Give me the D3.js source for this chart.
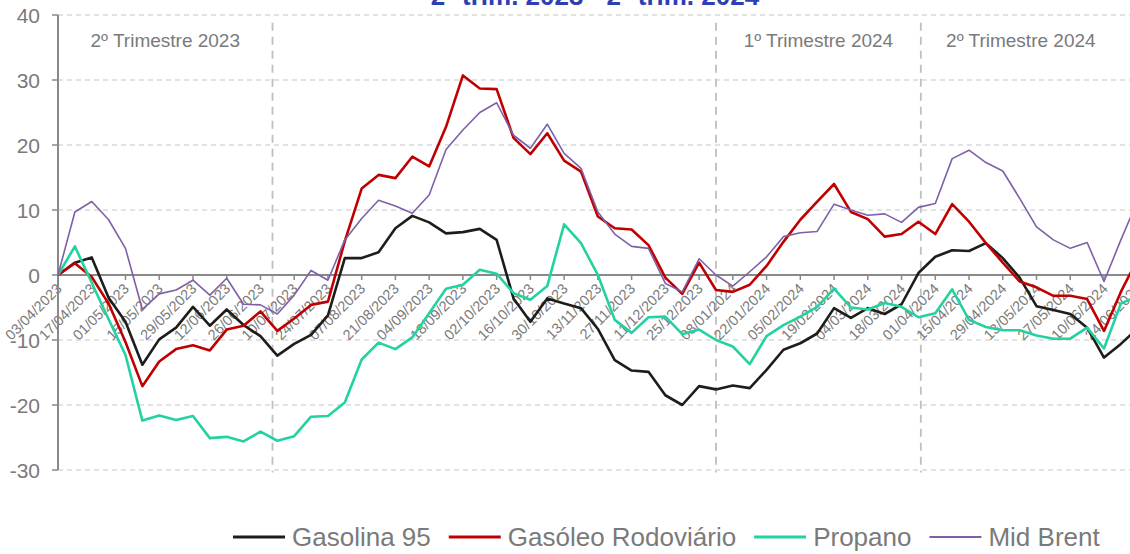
<!DOCTYPE html>
<html>
<head>
<meta charset="utf-8">
<script src="https://cdn.jsdelivr.net/npm/d3@7"></script>
<style>
  html, body { margin: 0; padding: 0; background: #fff; }
  #chart { width: 1130px; height: 554px; overflow: hidden; }
  #chart svg { display: block; font-family: "Liberation Sans", Arial, sans-serif; }
</style>
</head>
<body>
<div id="chart"></div>
<script>
// Weekly price variation (%) vs. same week of the previous year
var weeks = [
    "03/04/2023", "10/04/2023", "17/04/2023", "24/04/2023", "01/05/2023", "08/05/2023",
    "15/05/2023", "22/05/2023", "29/05/2023", "05/06/2023", "12/06/2023", "19/06/2023",
    "26/06/2023", "03/07/2023", "10/07/2023", "17/07/2023", "24/07/2023", "31/07/2023",
    "07/08/2023", "14/08/2023", "21/08/2023", "28/08/2023", "04/09/2023", "11/09/2023",
    "18/09/2023", "25/09/2023", "02/10/2023", "09/10/2023", "16/10/2023", "23/10/2023",
    "30/10/2023", "06/11/2023", "13/11/2023", "20/11/2023", "27/11/2023", "04/12/2023",
    "11/12/2023", "18/12/2023", "25/12/2023", "01/01/2024", "08/01/2024", "15/01/2024",
    "22/01/2024", "29/01/2024", "05/02/2024", "12/02/2024", "19/02/2024", "26/02/2024",
    "04/03/2024", "11/03/2024", "18/03/2024", "25/03/2024", "01/04/2024", "08/04/2024",
    "15/04/2024", "22/04/2024", "29/04/2024", "06/05/2024", "13/05/2024", "20/05/2024",
    "27/05/2024", "03/06/2024", "10/06/2024", "17/06/2024", "24/06/2024"
];

var gasolina95 = [
    0, 1.9, 2.7, -3.5, -7.2, -13.8, -9.9, -8.1, -4.9, -7.8, -5.3, -7.7, -9.4, -12.4, -10.6, -9.2,
    -6.2, 2.6, 2.6, 3.5, 7.2, 9.1, 8.1, 6.4, 6.6, 7.1, 5.4, -3.6, -7.2, -3.6, -4.4, -5.1,
    -8.3, -13.1, -14.7, -14.9, -18.5, -20.0, -17.1, -17.6, -17.0, -17.4, -14.6, -11.5, -10.5, -9.0,
    -5.1, -6.6, -5.1, -6.0, -4.5, 0.3, 2.8, 3.8, 3.7, 4.9, 2.6, -0.4, -4.8, -5.4, -6.0, -8.1,
    -12.7, -10.6, -8.2
];

var gasoleo = [
    0, 1.8, -0.3, -4.4, -10.3, -17.1, -13.3, -11.4, -10.8, -11.6, -8.4, -7.8, -5.6, -8.6, -6.7, -4.6,
    -4.1, 5.2, 13.3, 15.4, 14.9, 18.2, 16.7, 22.8, 30.7, 28.7, 28.6, 21.1, 18.6, 21.8, 17.6, 15.9,
    9.0, 7.2, 7.0, 4.6, -0.4, -2.9, 1.9, -2.3, -2.6, -1.5, 1.4, 5.1, 8.5, 11.3,
    14.0, 9.7, 8.6, 5.9, 6.3, 8.2, 6.3, 10.9, 8.2, 4.9, 1.9, -1.0, -1.9, -3.2, -3.2, -3.7,
    -8.6, -2.6, 2.5
];

var propano = [
    0, 4.4, -1.2, -6.8, -12.3, -22.4, -21.6, -22.3, -21.7, -25.1, -24.9, -25.6, -24.1, -25.5, -24.8, -21.8,
    -21.7, -19.6, -13.0, -10.4, -11.4, -9.6, -5.9, -2.1, -1.5, 0.8, 0.2, -2.8, -3.8, -1.7, 7.8, 4.9,
    0.0, -6.9, -8.9, -6.5, -6.4, -9.1, -8.4, -10.0, -11.0, -13.7, -9.4, -7.7, -6.4, -4.9,
    -2.1, -5.0, -5.3, -4.3, -4.9, -6.5, -5.9, -2.2, -6.9, -8.0, -8.5, -8.5, -9.3, -9.8, -9.8, -8.1,
    -11.3, -4.4, -3.2
];

var midBrent = [
    0, 9.7, 11.3, 8.5, 4.1, -5.3, -2.9, -2.3, -0.8, -3.1, -0.5, -4.5, -4.6, -6.0, -3.1, 0.7,
    -0.8, 5.4, 8.7, 11.5, 10.6, 9.5, 12.3, 19.3, 22.3, 25.0, 26.5, 21.5, 19.5, 23.2, 18.7, 16.4,
    9.7, 6.3, 4.4, 4.1, -1.3, -2.6, 2.5, 0.0, -1.7, 0.5, 2.8, 5.9, 6.5, 6.7,
    10.9, 10.0, 9.2, 9.4, 8.1, 10.4, 11.0, 17.9, 19.2, 17.3, 16.0, 11.8, 7.4, 5.4, 4.1, 5.0,
    -1.0, 5.4, 11.5
];

var seriesNames = ["Gasolina 95", "Gasóleo Rodoviário", "Propano", "Mid Brent"];
var seriesValues = [gasolina95, gasoleo, propano, midBrent];

var yTicks = [-30, -20, -10, 0, 10, 20, 30, 40];

// Quarter boundaries and quarter labels (label sits in the middle of its span)
var quarterDividers = ["01/07/2023", "01/01/2024", "26/03/2024"];
var quarterLabels = ["2º Trimestre 2023", "1º Trimestre 2024", "2º Trimestre 2024"];
var quarterSpans = [
    ["03/04/2023", "01/07/2023"],
    ["01/01/2024", "26/03/2024"],
    ["26/03/2024", "17/06/2024"]
];

var chartTitle = "2º trim. 2023 - 2º trim. 2024";

function renderChart(containerId) {
    var totalW = 1130, totalH = 554;
    var colors = ["#1d1d1b", "#c00000", "#22d2a0", "#7e60a8"];
    var widths = [2.6, 2.6, 2.6, 1.6];
    var axisGrey = "#898989";
    var textGrey = "#7a7a7a";

    var parseDate = d3.utcParse("%d/%m/%Y");
    var dates = weeks.map(parseDate);

    var svg = d3.select("#" + containerId).append("svg")
        .attr("width", totalW)
        .attr("height", totalH);

    // --- Scales ---
    var x = d3.scaleUtc()
        .domain([parseDate("03/04/2023"), parseDate("10/06/2024")])
        .range([58, 1104]);

    var y = d3.scaleLinear()
        .domain([-30, 40])
        .range([470, 15]);

    var xEnd = x(dates[dates.length - 1]);

    // --- Grid lines ---
    svg.append("g")
        .attr("class", "grid")
        .selectAll("line")
        .data(yTicks.filter(function(d) { return d !== 0; }))
        .enter().append("line")
            .attr("x1", x.range()[0]).attr("x2", xEnd)
            .attr("y1", function(d) { return y(d); })
            .attr("y2", function(d) { return y(d); })
            .style("stroke", "#d9d9d9")
            .style("stroke-width", 1.4)
            .style("stroke-dasharray", "5,4");

    // --- Quarter dividers ---
    svg.append("g")
        .attr("class", "dividers")
        .selectAll("line")
        .data(quarterDividers)
        .enter().append("line")
            .attr("x1", function(d) { return x(parseDate(d)); })
            .attr("x2", function(d) { return x(parseDate(d)); })
            .attr("y1", y(38.8))
            .attr("y2", y(-30.4))
            .style("stroke", "#bfbfbf")
            .style("stroke-width", 1.8)
            .style("stroke-dasharray", "8,6");

    svg.append("g")
        .attr("class", "quarter-labels")
        .selectAll("text")
        .data(quarterLabels)
        .enter().append("text")
            .attr("x", function(d, i) {
                var s = quarterSpans[i];
                return (x(parseDate(s[0])) + x(parseDate(s[1]))) / 2;
            })
            .attr("y", 47)
            .attr("text-anchor", "middle")
            .style("font-size", "19px")
            .style("fill", textGrey)
            .text(function(d) { return d; });

    // --- Zero line with ticks ---
    var tickDates = dates.filter(function(d, i) { return i % 2 === 0; });
    var tickLabels = weeks.filter(function(d, i) { return i % 2 === 0; });

    svg.append("line")
        .attr("x1", x.range()[0]).attr("x2", xEnd)
        .attr("y1", y(0)).attr("y2", y(0))
        .style("stroke", axisGrey)
        .style("stroke-width", 2);

    svg.append("g")
        .selectAll("line")
        .data(tickDates)
        .enter().append("line")
            .attr("x1", function(d) { return x(d); })
            .attr("x2", function(d) { return x(d); })
            .attr("y1", y(0))
            .attr("y2", y(0) + 5)
            .style("stroke", axisGrey)
            .style("stroke-width", 1.5);

    svg.append("g")
        .attr("class", "x-labels")
        .selectAll("text")
        .data(tickLabels)
        .enter().append("text")
            .attr("transform", function(d, i) {
                return "translate(" + (x(tickDates[i]) + 1) + "," + (y(0) + 11) + ") rotate(-45)";
            })
            .attr("text-anchor", "end")
            .attr("dy", "0.35em")
            .style("font-size", "14.5px")
            .style("fill", textGrey)
            .text(function(d) { return d; });

    // --- Y axis ---
    svg.append("line")
        .attr("x1", x.range()[0]).attr("x2", x.range()[0])
        .attr("y1", y(40)).attr("y2", y(-30))
        .style("stroke", axisGrey)
        .style("stroke-width", 2);

    var yAxis = svg.append("g").attr("class", "y-axis");
    yAxis.selectAll("line")
        .data(yTicks)
        .enter().append("line")
            .attr("x1", x.range()[0] - 6).attr("x2", x.range()[0])
            .attr("y1", function(d) { return y(d); })
            .attr("y2", function(d) { return y(d); })
            .style("stroke", axisGrey)
            .style("stroke-width", 1.5);

    yAxis.selectAll("text")
        .data(yTicks)
        .enter().append("text")
            .attr("x", 40)
            .attr("y", function(d) { return y(d); })
            .attr("dy", "0.36em")
            .attr("text-anchor", "end")
            .style("font-size", "21px")
            .style("fill", textGrey)
            .text(function(d) { return d; });

    // --- Lines ---
    var lineGen = d3.line()
        .x(function(d, i) { return x(dates[i]); })
        .y(function(d) { return y(d); });

    var linesGroup = svg.append("g").attr("class", "lines-group");
    seriesValues.forEach(function(vals, k) {
        linesGroup.append("path")
            .datum(vals)
            .attr("fill", "none")
            .attr("stroke", colors[k])
            .attr("stroke-width", widths[k])
            .attr("stroke-linejoin", "round")
            .attr("d", lineGen);
    });

    // --- Title (cropped at the top, as in the source image) ---
    svg.append("text")
        .attr("x", 595)
        .attr("y", 5)
        .attr("text-anchor", "middle")
        .style("font-size", "26px")
        .style("font-weight", "bold")
        .style("fill", "#2d3fb3")
        .text(chartTitle);

    // --- Legend (bottom, one row) ---
    var legend = svg.append("g").attr("class", "legend");
    var lx = 233, ly = 537;
    seriesNames.forEach(function(name, k) {
        legend.append("line")
            .attr("x1", lx).attr("x2", lx + 52)
            .attr("y1", ly).attr("y2", ly)
            .attr("stroke", colors[k])
            .attr("stroke-width", widths[k] + 0.4);
        var t = legend.append("text")
            .attr("x", lx + 59)
            .attr("y", ly + 9)
            .style("font-size", "26px")
            .style("fill", textGrey)
            .text(name);
        lx += 59 + t.node().getComputedTextLength() + 18;
    });
}

renderChart("chart");
</script>
</body>
</html>
